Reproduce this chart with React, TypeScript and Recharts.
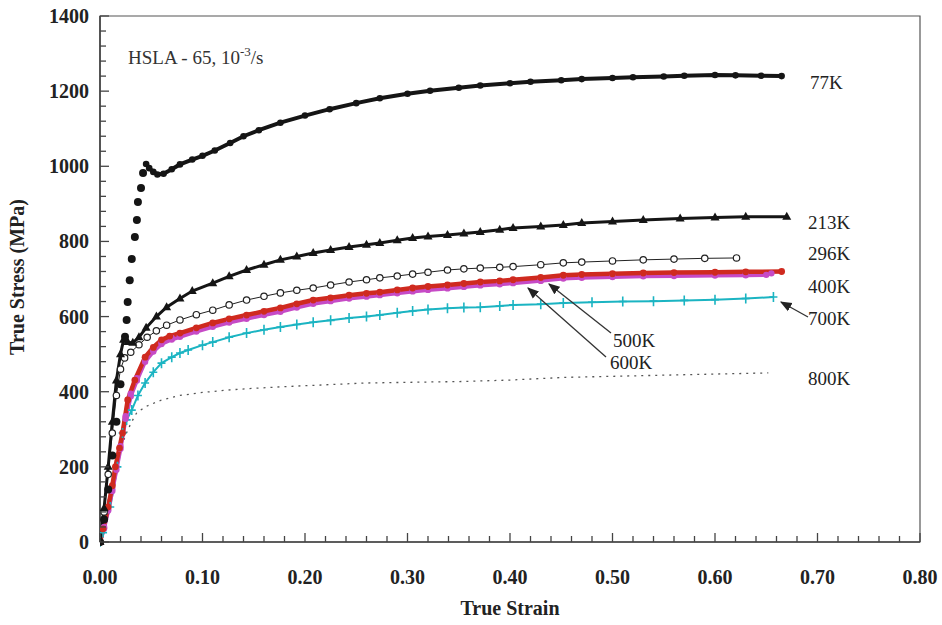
import React from "react";
import { LineChart, Line, XAxis, YAxis, ReferenceArea } from "recharts";

// [true strain, true stress (MPa)]
const k77Rise: number[][] = [
  [0, 0], [0.004, 60], [0.008, 140], [0.012, 230], [0.016, 320], [0.02, 420],
  [0.0244, 546], [0.026, 591], [0.027, 639], [0.029, 697], [0.031, 753],
  [0.034, 812], [0.036, 857], [0.037, 905], [0.04, 942], [0.042, 982],
];
const k77: number[][] = [
  [0.045, 1006], [0.048, 995], [0.052, 985], [0.056, 978], [0.062, 980],
  [0.07, 992], [0.078, 1005], [0.09, 1018], [0.1, 1028], [0.112, 1042],
  [0.127, 1062], [0.14, 1080], [0.155, 1096], [0.176, 1116], [0.2, 1135],
  [0.224, 1152], [0.25, 1168], [0.273, 1181], [0.3, 1193], [0.322, 1201],
  [0.35, 1209], [0.371, 1215], [0.4, 1221], [0.42, 1225], [0.45, 1229],
  [0.47, 1232], [0.5, 1235], [0.52, 1237], [0.55, 1239], [0.57, 1241],
  [0.6, 1243], [0.62, 1242], [0.645, 1241], [0.665, 1240],
];
const k213: number[][] = [
  [0, 0], [0.004, 90], [0.008, 200], [0.012, 320], [0.016, 430], [0.02, 500],
  [0.023, 538], [0.027, 532], [0.032, 530], [0.038, 545], [0.045, 570],
  [0.055, 600], [0.065, 625], [0.078, 648], [0.09, 668], [0.11, 689],
  [0.126, 707], [0.143, 724], [0.16, 738], [0.176, 751], [0.192, 760],
  [0.208, 769], [0.225, 777], [0.243, 785], [0.26, 791], [0.273, 796],
  [0.29, 803], [0.305, 809], [0.32, 813], [0.339, 817], [0.355, 821],
  [0.371, 825], [0.39, 831], [0.403, 836], [0.43, 840], [0.452, 844],
  [0.47, 849], [0.5, 853], [0.53, 857], [0.566, 861], [0.6, 864],
  [0.63, 866], [0.67, 866],
];
const k296: number[][] = [
  [0, 0], [0.004, 80], [0.008, 180], [0.012, 290], [0.016, 390], [0.02, 460],
  [0.024, 490], [0.03, 505], [0.038, 525], [0.046, 545], [0.055, 562],
  [0.065, 577], [0.078, 591], [0.094, 605], [0.11, 617], [0.126, 631],
  [0.143, 644], [0.16, 654], [0.176, 663], [0.192, 670], [0.208, 676],
  [0.225, 684], [0.243, 692], [0.26, 698], [0.273, 703], [0.29, 708],
  [0.305, 713], [0.32, 718], [0.339, 724], [0.355, 727], [0.371, 729],
  [0.39, 731], [0.403, 733], [0.43, 738], [0.452, 743], [0.47, 745],
  [0.5, 748], [0.53, 751], [0.56, 753], [0.59, 755], [0.621, 756],
];
const k400: number[][] = [
  [0, 0], [0.003, 35], [0.008, 93], [0.012, 150], [0.015, 200], [0.019, 250],
  [0.022, 290], [0.027, 378], [0.034, 431], [0.044, 492], [0.052, 518],
  [0.06, 538], [0.068, 548], [0.078, 556], [0.094, 570], [0.11, 583],
  [0.126, 594], [0.143, 604], [0.16, 614], [0.176, 623], [0.192, 634],
  [0.208, 644], [0.225, 650], [0.243, 657], [0.26, 662], [0.273, 665],
  [0.29, 671], [0.305, 676], [0.32, 680], [0.339, 684], [0.355, 688],
  [0.371, 692], [0.39, 695], [0.403, 698], [0.43, 704], [0.452, 710],
  [0.47, 712], [0.5, 714], [0.53, 716], [0.56, 717], [0.6, 718],
  [0.63, 719], [0.665, 720],
];
const k500: number[][] = [
  [0, 0], [0.004, 40], [0.008, 88], [0.012, 142], [0.016, 200], [0.02, 255],
  [0.025, 335], [0.03, 395], [0.036, 436], [0.044, 486], [0.052, 512],
  [0.06, 532], [0.07, 543], [0.078, 550], [0.094, 564], [0.11, 577],
  [0.126, 588], [0.143, 598], [0.16, 608], [0.176, 617], [0.192, 628],
  [0.208, 638], [0.225, 645], [0.243, 652], [0.26, 657], [0.273, 660],
  [0.29, 666], [0.305, 671], [0.32, 675], [0.339, 679], [0.355, 683],
  [0.371, 687], [0.39, 690], [0.403, 693], [0.43, 699], [0.452, 705],
  [0.47, 707], [0.5, 709], [0.53, 711], [0.56, 712], [0.6, 713],
  [0.63, 714], [0.655, 715],
];
const k600: number[][] = [
  [0, 0], [0.004, 36], [0.008, 84], [0.012, 136], [0.016, 192], [0.02, 248],
  [0.025, 328], [0.03, 388], [0.036, 430], [0.044, 480], [0.052, 507],
  [0.06, 527], [0.07, 539], [0.078, 546], [0.094, 560], [0.11, 573],
  [0.126, 584], [0.143, 594], [0.16, 604], [0.176, 613], [0.192, 624],
  [0.208, 634], [0.225, 641], [0.243, 648], [0.26, 653], [0.273, 657],
  [0.29, 662], [0.305, 667], [0.32, 671], [0.339, 675], [0.355, 679],
  [0.371, 683], [0.39, 686], [0.403, 689], [0.43, 695], [0.452, 701],
  [0.47, 703], [0.5, 705], [0.53, 707], [0.56, 708], [0.6, 709],
  [0.63, 710], [0.65, 711],
];
const k700: number[][] = [
  [0, 0], [0.003, 25], [0.01, 93], [0.017, 200], [0.022, 290], [0.026, 325],
  [0.031, 351], [0.037, 390], [0.044, 423], [0.052, 452], [0.06, 476],
  [0.07, 492], [0.078, 503], [0.086, 511], [0.1, 524], [0.11, 532],
  [0.126, 545], [0.143, 556], [0.16, 565], [0.176, 572], [0.192, 579],
  [0.208, 585], [0.225, 590], [0.243, 596], [0.26, 600], [0.273, 604],
  [0.29, 610], [0.305, 615], [0.32, 619], [0.339, 622], [0.355, 624],
  [0.371, 625], [0.39, 628], [0.403, 631], [0.43, 633], [0.452, 636],
  [0.48, 638], [0.51, 640], [0.54, 641], [0.57, 643], [0.6, 645],
  [0.63, 648], [0.657, 652],
];
const k800: number[][] = [
  [0, 0], [0.004, 55], [0.008, 112], [0.012, 160], [0.016, 200], [0.02, 245],
  [0.025, 285], [0.03, 315], [0.036, 345], [0.046, 362], [0.06, 378],
  [0.078, 390], [0.1, 398], [0.127, 405], [0.15, 409], [0.176, 413],
  [0.2, 416], [0.225, 419], [0.257, 423], [0.3, 425], [0.35, 427],
  [0.4, 431], [0.452, 438], [0.5, 441], [0.55, 444], [0.6, 447], [0.652, 450],
];

const X_MAJOR = [0, 0.1, 0.2, 0.3, 0.4, 0.5, 0.6, 0.7, 0.8];
const Y_MAJOR = [0, 200, 400, 600, 800, 1000, 1200, 1400];
const X_TICKS: number[] = [];
for (let i = 0; i <= 40; i++) X_TICKS.push(+(i * 0.02).toFixed(2));
const Y_TICKS: number[] = [];
for (let i = 0; i <= 35; i++) Y_TICKS.push(i * 40);

const toPts = (arr: number[][]) => arr.map(([x, y]) => ({ x, y }));

const W = 942;
const H = 625;
const LEFT = 100;
const RIGHT = 920;
const TOP = 16;
const BOTTOM = 542;
const X_AXIS_H = 30;
const SERIF = "'Liberation Serif', 'Times New Roman', serif";

const RED = "#cf2a1f";
const MAGENTA = "#c64bc6";
const CYAN = "#1bb4c2";
const INK = "#151515";

const XTick = (props: any) => {
  const { x, payload } = props;
  const v = payload.value;
  const major = X_MAJOR.some((m) => Math.abs(m - v) < 1e-6);
  return (
    <g>
      <line x1={x} x2={x} y1={BOTTOM} y2={BOTTOM - (major ? 9 : 6)} stroke="#444" strokeWidth={1.3} />
      {major && (
        <text x={x} y={584} textAnchor="middle" fontFamily={SERIF} fontWeight="bold" fontSize={20} fill="#222">
          {v.toFixed(2)}
        </text>
      )}
    </g>
  );
};

const YTick = (props: any) => {
  const { y, payload } = props;
  const v = payload.value;
  const major = Y_MAJOR.includes(v);
  return (
    <g>
      <line x1={LEFT} x2={LEFT + (major ? 9 : 6)} y1={y} y2={y} stroke="#444" strokeWidth={1.3} />
      {major && (
        <text x={89} y={y + 7} textAnchor="end" fontFamily={SERIF} fontWeight="bold" fontSize={20} fill="#222">
          {v}
        </text>
      )}
    </g>
  );
};

const bigDot = (p: any) => <circle key={p.index} cx={p.cx} cy={p.cy} r={4} fill={INK} />;
const smallDot = (p: any) => <circle key={p.index} cx={p.cx} cy={p.cy} r={3.3} fill={INK} />;
const triangle = (p: any) => (
  <path key={p.index} d={`M${p.cx},${p.cy - 5} L${p.cx + 4.5},${p.cy + 3} L${p.cx - 4.5},${p.cy + 3} Z`} fill={INK} />
);
const openCircle = (p: any) => (
  <circle key={p.index} cx={p.cx} cy={p.cy} r={3.2} fill="#fff" stroke="#222" strokeWidth={1.2} />
);
const redDot = (p: any) => <circle key={p.index} cx={p.cx} cy={p.cy} r={3.4} fill={RED} />;
const magDot = (p: any) => <circle key={p.index} cx={p.cx} cy={p.cy} r={3.2} fill={MAGENTA} />;
const plus = (p: any) => (
  <path key={p.index} d={`M${p.cx - 4},${p.cy} H${p.cx + 4} M${p.cx},${p.cy - 5} V${p.cy + 5}`} stroke={CYAN} strokeWidth={1.6} />
);

const labelStyle = { fontFamily: SERIF, fontSize: 19, fill: "#222" };

export default function App() {
  return (
    <div style={{ position: "absolute", left: 0, top: 0, width: W, height: H, background: "#fff" }}>
      <LineChart width={W} height={H} margin={{ top: TOP, right: W - RIGHT, bottom: H - BOTTOM - X_AXIS_H, left: 0 }}>
        <XAxis
          type="number"
          dataKey="x"
          domain={[0, 0.8]}
          ticks={X_TICKS}
          interval={0}
          height={X_AXIS_H}
          tick={<XTick />}
          tickLine={false}
          axisLine={{ stroke: "#444", strokeWidth: 1.6 }}
          allowDataOverflow
        />
        <YAxis
          type="number"
          dataKey="y"
          domain={[0, 1400]}
          ticks={Y_TICKS}
          interval={0}
          width={LEFT}
          tick={<YTick />}
          tickLine={false}
          axisLine={{ stroke: "#444", strokeWidth: 1.6 }}
        />
        <ReferenceArea x1={0} x2={0.8} y1={0} y2={1400} fill="none" stroke="#555" strokeWidth={1.2} />
        <Line data={toPts(k800)} dataKey="y" stroke="#555" strokeWidth={1.3} strokeDasharray="2 5" dot={false} isAnimationActive={false} />
        <Line data={toPts(k700)} dataKey="y" stroke={CYAN} strokeWidth={2} dot={plus} isAnimationActive={false} />
        <Line data={toPts(k600)} dataKey="y" stroke={MAGENTA} strokeWidth={4} dot={magDot} isAnimationActive={false} />
        <Line data={toPts(k500)} dataKey="y" stroke={MAGENTA} strokeWidth={4} dot={magDot} isAnimationActive={false} />
        <Line data={toPts(k400)} dataKey="y" stroke={RED} strokeWidth={4.5} dot={redDot} isAnimationActive={false} />
        <Line data={toPts(k296)} dataKey="y" stroke="#222" strokeWidth={1} dot={openCircle} isAnimationActive={false} />
        <Line data={toPts(k213)} dataKey="y" stroke={INK} strokeWidth={3} dot={triangle} isAnimationActive={false} />
        <Line data={toPts(k77Rise)} dataKey="y" stroke="none" dot={bigDot} isAnimationActive={false} />
        <Line data={toPts(k77)} dataKey="y" stroke={INK} strokeWidth={4} dot={smallDot} isAnimationActive={false} />
      </LineChart>
      <svg width={W} height={H} style={{ position: "absolute", left: 0, top: 0, pointerEvents: "none" }}>
        <defs>
          <marker id="arr" viewBox="0 0 10 10" refX="9" refY="5" markerWidth="9" markerHeight="9" orient="auto">
            <path d="M0,1 L10,5 L0,9 Z" fill="#222" />
          </marker>
        </defs>
        <text x={128} y={64} fontFamily={SERIF} fontSize={19} fill="#333">
          HSLA - 65, 10<tspan dy={-8} fontSize={13}>-3</tspan>
          <tspan dy={8}>/s</tspan>
        </text>
        <text x={810} y={89} {...labelStyle}>77K</text>
        <text x={808} y={229} {...labelStyle}>213K</text>
        <text x={808} y={260} {...labelStyle}>296K</text>
        <text x={808} y={293} {...labelStyle}>400K</text>
        <text x={808} y={325} {...labelStyle}>700K</text>
        <text x={808} y={385} {...labelStyle}>800K</text>
        <text x={613} y={347} {...labelStyle}>500K</text>
        <text x={610} y={369} {...labelStyle}>600K</text>
        <line x1={611} y1={333} x2={549} y2={284} stroke="#333" strokeWidth={1.3} markerEnd="url(#arr)" />
        <line x1={606} y1={357} x2={528} y2={288} stroke="#333" strokeWidth={1.3} markerEnd="url(#arr)" />
        <line x1={808} y1={317} x2={781} y2={302} stroke="#333" strokeWidth={1.3} markerEnd="url(#arr)" />
        <text
          x={0}
          y={0}
          transform="translate(24,277) rotate(-90)"
          textAnchor="middle"
          fontFamily={SERIF}
          fontWeight="bold"
          fontSize={20}
          fill="#222"
        >
          True Stress (MPa)
        </text>
        <text x={510} y={615} textAnchor="middle" fontFamily={SERIF} fontWeight="bold" fontSize={20} fill="#222">
          True Strain
        </text>
      </svg>
    </div>
  );
}
